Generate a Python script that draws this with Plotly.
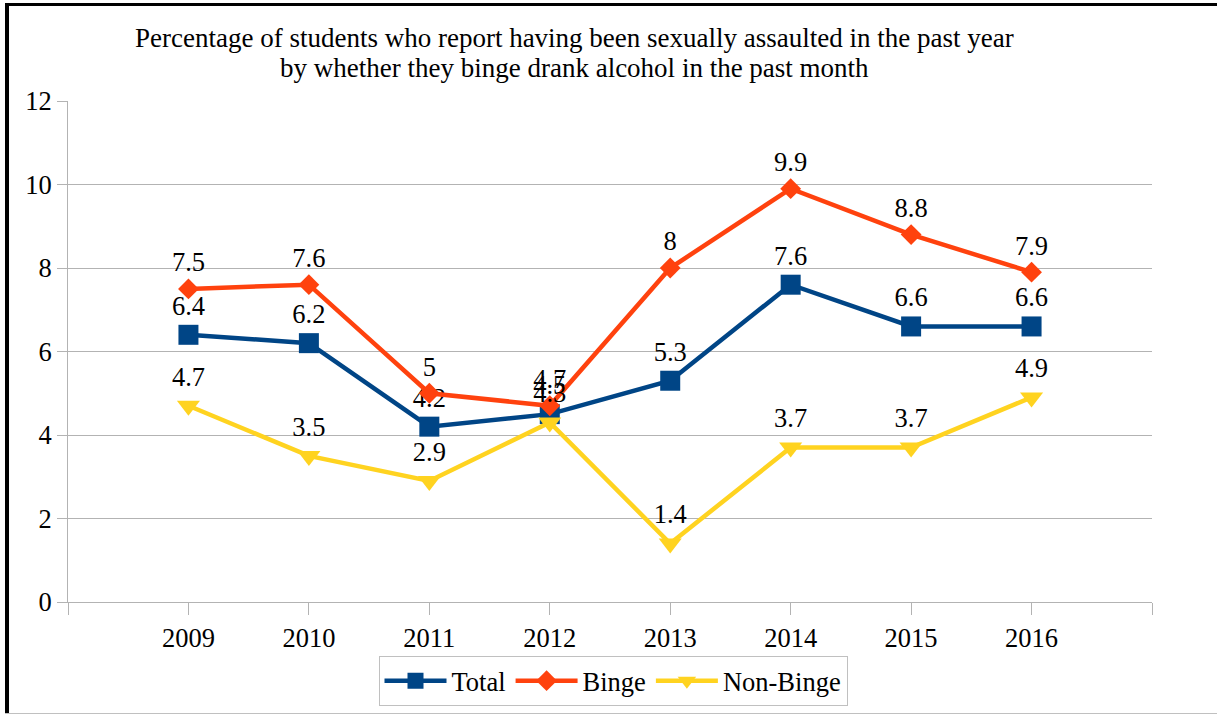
import plotly.graph_objects as go

years = [2009, 2010, 2011, 2012, 2013, 2014, 2015, 2016]
total = [6.4, 6.2, 4.2, 4.5, 5.3, 7.6, 6.6, 6.6]
binge = [7.5, 7.6, 5, 4.7, 8, 9.9, 8.8, 7.9]
non_binge = [4.7, 3.5, 2.9, 4.3, 1.4, 3.7, 3.7, 4.9]
y_ticks = [0, 2, 4, 6, 8, 10, 12]
title_lines = [
    "Percentage of students who report having been sexually assaulted in the past year",
    "by whether they binge drank alcohol in the past month",
]

FONT = "Liberation Serif"
FS = 26.5

series = [
    ("Total", total, "#004586", "square", 20),
    ("Binge", binge, "#ff420e", "diamond", 16),
    ("Non-Binge", non_binge, "#ffd320", "triangle-down", 20),
]

# plot area in pixels: x 68..1152, y 101..602
PW, PH = 1084, 501

fig = go.Figure()
for name, vals, color, symbol, size in series:
    fig.add_trace(go.Scatter(
        x=years, y=vals, name=name,
        mode="lines+markers+text",
        line=dict(color=color, width=4.5),
        marker=dict(symbol=symbol, size=size, color=color),
        text=[f"{v:g}" for v in vals],
        textposition="top center",
        textfont=dict(family=FONT, size=FS, color="black"),
        cliponaxis=False,
    ))

fig.update_layout(
    width=1217, height=715,
    margin=dict(l=68, r=65, t=101, b=113, autoexpand=False),
    paper_bgcolor="white", plot_bgcolor="white",
    font=dict(family=FONT, size=FS, color="black"),
    xaxis=dict(
        range=[2008, 2017],
        tickvals=[2008] + years + [2017],
        ticktext=[""] + [str(y) for y in years] + [""],
        ticks="outside", ticklen=12, tickcolor="#b3b3b3",
        showline=True, linecolor="#b3b3b3", linewidth=1,
        showgrid=False, zeroline=False,
        tickfont=dict(family=FONT, size=FS),
    ),
    yaxis=dict(
        range=[0, 12], tickvals=y_ticks,
        ticks="outside", ticklen=10, tickcolor="#b3b3b3",
        showline=True, linecolor="#b3b3b3", linewidth=1,
        gridcolor="#b3b3b3", zeroline=False,
        tickfont=dict(family=FONT, size=FS),
    ),
    legend=dict(
        orientation="h", x=(613 - 68) / PW, xanchor="center",
        y=(602 - 656) / PH, yanchor="top",
        bordercolor="#c0c0c0", borderwidth=1,
        font=dict(family=FONT, size=FS), itemwidth=62,
    ),
    showlegend=True,
)

# two-line title
for line, ypx in zip(title_lines, [38, 68]):
    fig.add_annotation(
        text=line, xref="paper", yref="paper",
        x=(574 - 68) / PW, y=(602 - ypx) / PH,
        xanchor="center", yanchor="middle", showarrow=False,
        font=dict(family=FONT, size=27, color="black"),
    )

# frame of the picture: black top and left edges, grey bottom edge
fig.add_shape(type="line", xref="paper", yref="paper",
              x0=(5 - 68) / PW, x1=1.1, y0=(602 - 4.5) / PH, y1=(602 - 4.5) / PH,
              line=dict(color="black", width=3))
fig.add_shape(type="line", xref="paper", yref="paper",
              x0=(7 - 68) / PW, x1=(7 - 68) / PW, y0=(602 - 714) / PH, y1=(602 - 3) / PH,
              line=dict(color="black", width=4))
fig.add_shape(type="line", xref="paper", yref="paper",
              x0=(5 - 68) / PW, x1=1.1, y0=(602 - 713.5) / PH, y1=(602 - 713.5) / PH,
              line=dict(color="#c0c0c0", width=1))

fig.write_html("out.html", config={"displayModeBar": False},
               post_script="document.body.style.margin='0';")
